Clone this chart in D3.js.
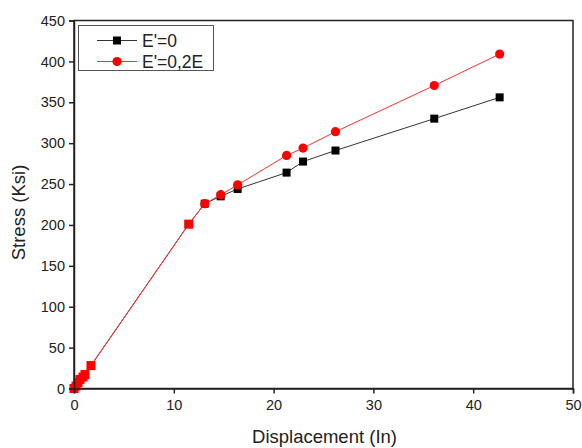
<!DOCTYPE html>
<html>
<head>
<meta charset="utf-8">
<script src="https://cdn.jsdelivr.net/npm/d3@7"></script>
<style>
  html, body { margin: 0; padding: 0; background: #fff; }
  svg text { font-family: "Liberation Sans", Arial, sans-serif; fill: #222; }
</style>
</head>
<body>
<div id="chart"></div>
<script>
// data
var dispE0   = [0, 0.2, 0.4, 0.6, 0.9, 1.1, 1.7, 11.5, 13.1, 14.7, 16.4, 21.3, 22.95, 26.2, 36.1, 42.65];
var stressE0 = [0, 3, 7, 11, 14, 17, 28, 201, 226, 235, 244, 264, 277.5, 291, 330, 356];
var dispE02   = [0, 0.2, 0.4, 0.6, 0.9, 1.1, 1.7, 11.5, 13.1, 14.7, 16.4, 21.3, 22.95, 26.2, 36.1, 42.65];
var stressE02 = [0, 3, 7, 11, 14, 17, 28, 201, 226, 237, 249, 285, 294, 314, 370.5, 409];
var xTicks = [0, 10, 20, 30, 40, 50];
var yTicks = [0, 50, 100, 150, 200, 250, 300, 350, 400, 450];
var seriesNames = ["E'=0", "E'=0,2E"];

var W = 582, H = 448;
var margin = { left: 74, right: 9, top: 20.5, bottom: 59.5 };
var width = W - margin.left - margin.right,
    height = H - margin.top - margin.bottom;

var svg = d3.select("#chart").append("svg")
    .attr("width", W).attr("height", H);
var g = svg.append("g")
    .attr("transform", "translate(" + margin.left + "," + margin.top + ")");

var x = d3.scaleLinear().domain([0, 50]).range([0, width]);
var y = d3.scaleLinear().domain([0, 450]).range([height, 0]);

var black = dispE0.map(function(d, i) { return { x: d, y: stressE0[i] }; });
var red = dispE02.map(function(d, i) { return { x: d, y: stressE02[i] }; });

var line = d3.line().x(function(d) { return x(d.x); }).y(function(d) { return y(d.y); });

// frame (top/right)
g.append("rect")
    .attr("x", 0).attr("y", 0).attr("width", width).attr("height", height)
    .attr("fill", "none").attr("stroke", "#222").attr("stroke-width", 1.5);

// black series
g.append("path").datum(black)
    .attr("d", line).attr("fill", "none")
    .attr("stroke", "#333").attr("stroke-width", 1);
g.selectAll(".sq").data(black).enter().append("rect")
    .attr("class", "sq")
    .attr("x", function(d) { return x(d.x) - 4; })
    .attr("y", function(d) { return y(d.y) - 4; })
    .attr("width", 8).attr("height", 8)
    .attr("fill", "#000");

// red series
g.append("path").datum(red)
    .attr("d", line).attr("fill", "none")
    .attr("stroke", "#ff3030").attr("stroke-width", 1);
// where the two curves share a point in the elastic range the square is overdrawn red
g.selectAll(".rsq").data(red.filter(function(d) { return d.x < 13; })).enter().append("rect")
    .attr("class", "rsq")
    .attr("x", function(d) { return x(d.x) - 4.5; })
    .attr("y", function(d) { return y(d.y) - 4.5; })
    .attr("width", 9).attr("height", 9)
    .attr("fill", "#f00");
g.selectAll(".ci").data(red.filter(function(d) { return d.x >= 13; })).enter().append("circle")
    .attr("class", "ci")
    .attr("cx", function(d) { return x(d.x); })
    .attr("cy", function(d) { return y(d.y); })
    .attr("r", 4.6)
    .attr("fill", "#f00");

// axes
var xAxis = g.append("g").attr("transform", "translate(0," + height + ")");
xAxis.call(d3.axisBottom(x).tickValues(d3.range(0, 51, 5)).tickSize(3).tickFormat(""));
xAxis.call(d3.axisBottom(x).tickValues(xTicks).tickSize(5).tickPadding(6))
    .selectAll("text").style("font-size", "14.5px");
var yAxis = g.append("g");
yAxis.call(d3.axisLeft(y).tickValues(d3.range(0, 451, 25)).tickSize(3).tickFormat(""));
yAxis.call(d3.axisLeft(y).tickValues(yTicks).tickSize(5).tickPadding(4))
    .selectAll("text").style("font-size", "14.5px");
g.selectAll(".domain").attr("stroke", "#222").attr("stroke-width", 1.5);
g.selectAll(".tick line").attr("stroke", "#222").attr("stroke-width", 1.5);

// titles
svg.append("text")
    .attr("x", margin.left + width / 2 + 1).attr("y", 443)
    .attr("text-anchor", "middle").style("font-size", "18.5px")
    .text("Displacement (In)");
svg.append("text")
    .attr("transform", "translate(25," + (margin.top + height / 2 + 8) + ") rotate(-90)")
    .attr("text-anchor", "middle").style("font-size", "18.5px")
    .text("Stress (Ksi)");

// legend
var lg = svg.append("g");
lg.append("rect")
    .attr("x", 78.5).attr("y", 25.5).attr("width", 135).attr("height", 45)
    .attr("fill", "#fff").attr("stroke", "#555").attr("stroke-width", 1);
var rows = lg.selectAll(".row").data(seriesNames).enter().append("g")
    .attr("transform", function(d, i) { return "translate(0," + (40.5 + i * 21) + ")"; });
rows.append("line")
    .attr("x1", 97).attr("x2", 137)
    .attr("stroke", function(d, i) { return i ? "#ff3030" : "#333"; })
    .attr("stroke-width", 1);
rows.each(function(d, i) {
  var r = d3.select(this);
  if (i === 0) {
    r.append("rect").attr("x", 113).attr("y", -4).attr("width", 8).attr("height", 8).attr("fill", "#000");
  } else {
    r.append("circle").attr("cx", 117).attr("cy", 0).attr("r", 4.6).attr("fill", "#f00");
  }
});
rows.append("text")
    .attr("x", 142).attr("dy", "0.36em")
    .style("font-size", "17.5px")
    .text(function(d) { return d; });
</script>
</body>
</html>
